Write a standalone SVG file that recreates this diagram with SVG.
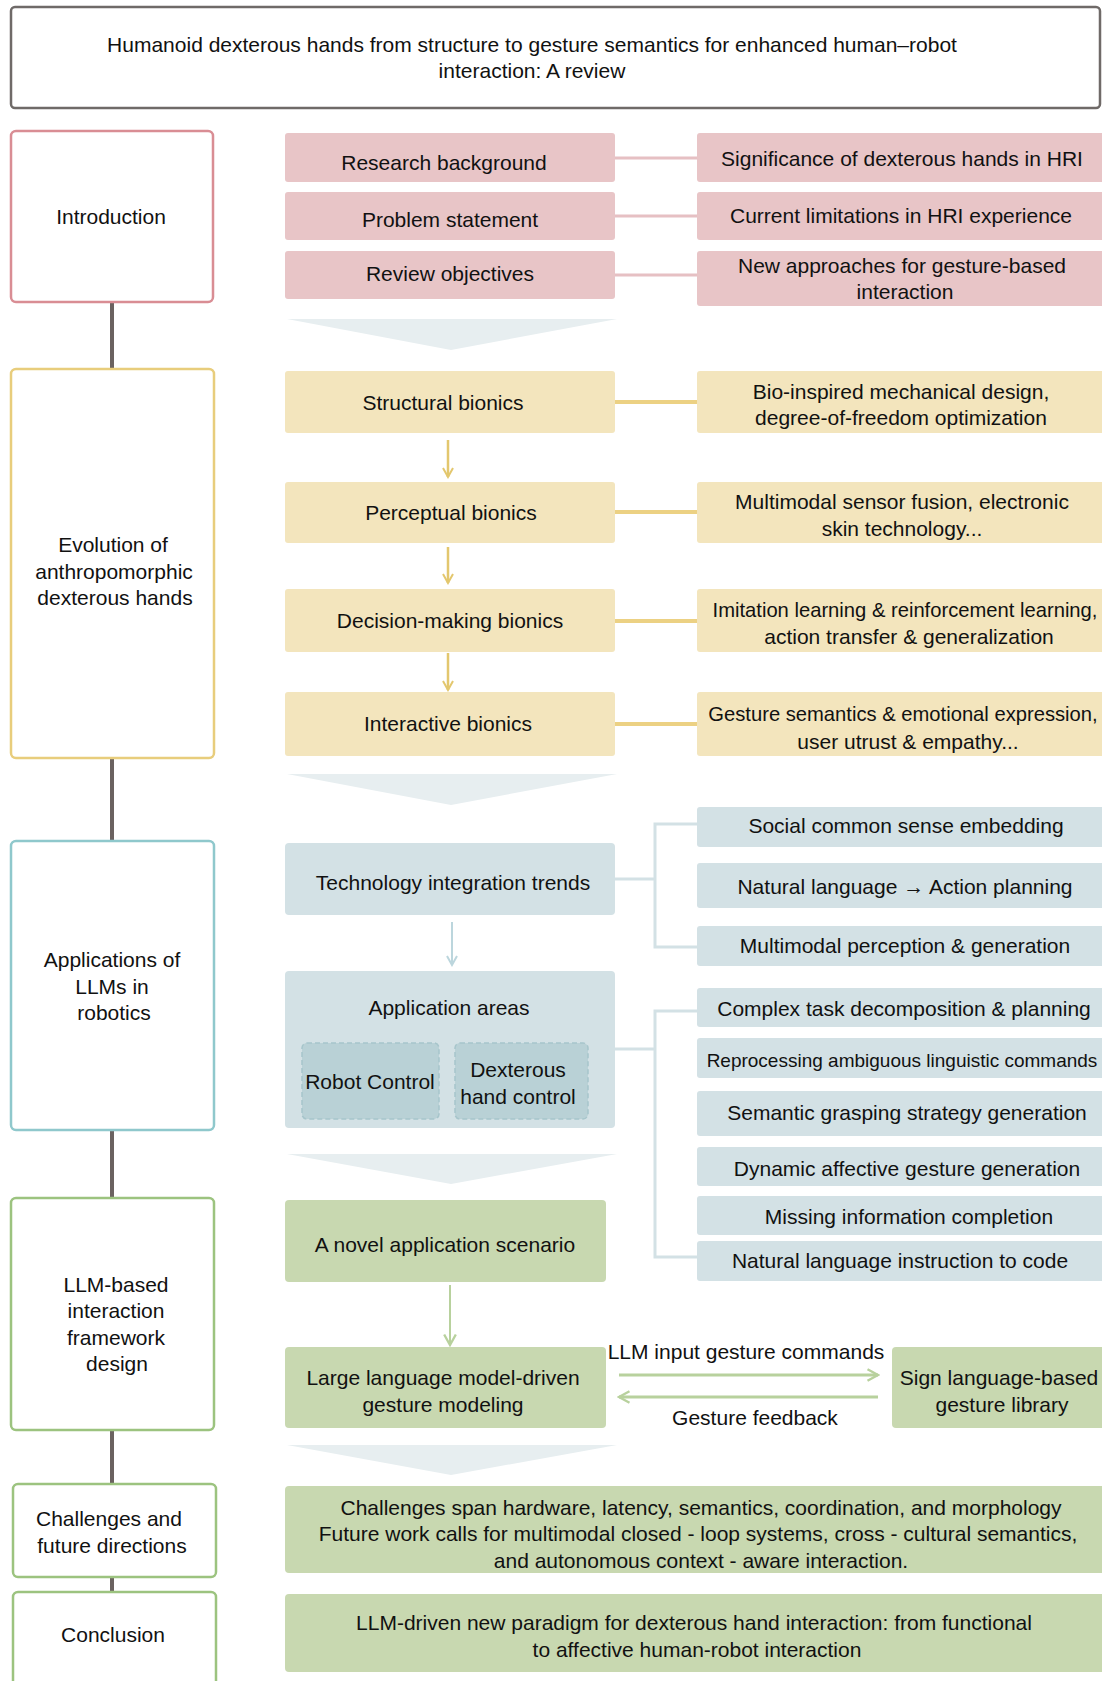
<svg xmlns="http://www.w3.org/2000/svg" width="1102" height="1681" viewBox="0 0 1102 1681">
<style>
text{font-family:"Liberation Sans",Arial,sans-serif;font-size:21px;fill:#111;text-anchor:middle}
.sec{fill:#fff;stroke-width:2.5}
.pk{fill:#e8c5c7}
.yl{fill:#f3e5bd}
.bl{fill:#d3e1e5}
.gr{fill:#c8d8b0}
.dash{fill:#b9d1d6;stroke:#a7c5cb;stroke-width:1.5;stroke-dasharray:5 3}
.chev{fill:#e7eef0}
.vline{stroke:#6b6260;stroke-width:4}
</style>
<defs>
<marker id="ay" viewBox="0 0 12 12" refX="10" refY="6" markerWidth="12" markerHeight="12" markerUnits="userSpaceOnUse" orient="auto"><path d="M1,1 L10,6 L1,11" fill="none" stroke="#e3c76e" stroke-width="2"/></marker>
<marker id="ab" viewBox="0 0 12 12" refX="10" refY="6" markerWidth="12" markerHeight="12" markerUnits="userSpaceOnUse" orient="auto"><path d="M1,1 L10,6 L1,11" fill="none" stroke="#bcd6dd" stroke-width="2"/></marker>
<marker id="ag" viewBox="0 0 12 12" refX="10" refY="6" markerWidth="14" markerHeight="14" markerUnits="userSpaceOnUse" orient="auto"><path d="M1,1 L10,6 L1,11" fill="none" stroke="#b8d19d" stroke-width="2"/></marker>
</defs>

<g id="connectors">
<line class="vline" x1="112" y1="302" x2="112" y2="369"/>
<line class="vline" x1="112" y1="758" x2="112" y2="841"/>
<line class="vline" x1="112" y1="1130" x2="112" y2="1198"/>
<line class="vline" x1="112" y1="1430" x2="112" y2="1484"/>
<line class="vline" x1="112" y1="1577" x2="112" y2="1592"/>
<g stroke="#e6c0c3" stroke-width="3">
<line x1="615" y1="158" x2="697" y2="158"/>
<line x1="615" y1="216" x2="697" y2="216"/>
<line x1="615" y1="275" x2="697" y2="275"/>
</g>
<g stroke="#ecd183" stroke-width="4">
<line x1="615" y1="402" x2="697" y2="402"/>
<line x1="615" y1="512" x2="697" y2="512"/>
<line x1="615" y1="621" x2="697" y2="621"/>
<line x1="615" y1="724" x2="697" y2="724"/>
</g>
<g stroke="#e3c76e" stroke-width="2.5" fill="none">
<line x1="448" y1="440" x2="448" y2="477" marker-end="url(#ay)"/>
<line x1="448" y1="547" x2="448" y2="583" marker-end="url(#ay)"/>
<line x1="448" y1="653" x2="448" y2="690" marker-end="url(#ay)"/>
</g>
<g stroke="#d3e1e5" stroke-width="3" fill="none">
<polyline points="615,879 655,879"/>
<polyline points="697,824 655,824 655,947 697,947"/>
<polyline points="615,1049 655,1049"/>
<polyline points="697,1011 655,1011 655,1257 697,1257"/>
</g>
<line x1="452" y1="922" x2="452" y2="965" stroke="#bcd6dd" stroke-width="2" marker-end="url(#ab)"/>
<line x1="450" y1="1285" x2="450" y2="1345" stroke="#b8d19d" stroke-width="2" marker-end="url(#ag)"/>
<line x1="619" y1="1375" x2="878" y2="1375" stroke="#b8d19d" stroke-width="3" marker-end="url(#ag)"/>
<line x1="878" y1="1397" x2="619" y2="1397" stroke="#b8d19d" stroke-width="3" marker-end="url(#ag)"/>
</g>

<g id="chevrons">
<polygon class="chev" points="287,319 617,319 451,350"/>
<polygon class="chev" points="287,774 617,774 451,805"/>
<polygon class="chev" points="287,1154 617,1154 451,1184"/>
<polygon class="chev" points="287,1445 617,1445 451,1475"/>
</g>

<g id="title"><rect x="11" y="7" width="1089" height="101" rx="4" fill="#fff" stroke="#6f6a68" stroke-width="2.5"/>
<text x="532" y="52">Humanoid dexterous hands from structure to gesture semantics for enhanced human–robot</text>
<text x="532" y="78">interaction: A review</text></g>

<g id="introduction"><rect class="sec" x="11" y="131" width="202" height="171" rx="5" stroke="#d98d94"/><text x="111" y="224">Introduction</text></g>
<g id="research-background"><rect class="pk" x="285" y="133" width="330" height="49" rx="3"/><text x="444" y="170">Research background</text></g>
<g id="problem-statement"><rect class="pk" x="285" y="192" width="330" height="48" rx="3"/><text x="450" y="227">Problem statement</text></g>
<g id="review-objectives"><rect class="pk" x="285" y="251" width="330" height="48" rx="3"/><text x="450" y="281">Review objectives</text></g>
<g id="significance"><rect class="pk" x="697" y="133" width="410" height="49" rx="3"/><text x="902" y="166">Significance of dexterous hands in HRI</text></g>
<g id="limitations"><rect class="pk" x="697" y="192" width="410" height="48" rx="3"/><text x="901" y="223">Current limitations in HRI experience</text></g>
<g id="new-approaches"><rect class="pk" x="697" y="251" width="410" height="55" rx="3"/><text x="902" y="273">New approaches for gesture-based</text><text x="905" y="299">interaction</text></g>

<g id="evolution"><rect class="sec" x="11" y="369" width="203" height="389" rx="5" stroke="#e8cd7c"/><text x="113" y="552">Evolution of</text><text x="114" y="579">anthropomorphic</text><text x="115" y="605">dexterous hands</text></g>
<g id="structural"><rect class="yl" x="285" y="371" width="330" height="62" rx="3"/><text x="443" y="410">Structural bionics</text></g>
<g id="perceptual"><rect class="yl" x="285" y="482" width="330" height="61" rx="3"/><text x="451" y="520">Perceptual bionics</text></g>
<g id="decision"><rect class="yl" x="285" y="589" width="330" height="63" rx="3"/><text x="450" y="628">Decision-making bionics</text></g>
<g id="interactive"><rect class="yl" x="285" y="692" width="330" height="64" rx="3"/><text x="448" y="731">Interactive bionics</text></g>
<g id="bio-inspired"><rect class="yl" x="697" y="371" width="410" height="62" rx="3"/><text x="901" y="399">Bio-inspired mechanical design,</text><text x="901" y="425">degree-of-freedom optimization</text></g>
<g id="multimodal-sensor"><rect class="yl" x="697" y="482" width="410" height="61" rx="3"/><text x="902" y="509">Multimodal sensor fusion, electronic</text><text x="902" y="536">skin technology...</text></g>
<g id="imitation"><rect class="yl" x="697" y="589" width="410" height="63" rx="3"/><text x="905" y="617" style="font-size:20.2px">Imitation learning &amp; reinforcement learning,</text><text x="909" y="644">action transfer &amp; generalization</text></g>
<g id="gesture-semantics"><rect class="yl" x="697" y="692" width="410" height="64" rx="3"/><text x="903" y="721" style="font-size:20.2px">Gesture semantics &amp; emotional expression,</text><text x="908" y="749">user utrust &amp; empathy...</text></g>

<g id="applications"><rect class="sec" x="11" y="841" width="203" height="289" rx="5" stroke="#8fc8cc"/><text x="112" y="967">Applications of</text><text x="112" y="994">LLMs in</text><text x="114" y="1020">robotics</text></g>
<g id="tech-trends"><rect class="bl" x="285" y="843" width="330" height="72" rx="4"/><text x="453" y="890">Technology integration trends</text></g>
<g id="app-areas"><rect class="bl" x="285" y="971" width="330" height="157" rx="4"/><text x="449" y="1015">Application areas</text>
<rect class="dash" x="302" y="1043" width="137" height="76" rx="5"/><text x="370" y="1089">Robot Control</text>
<rect class="dash" x="455" y="1043" width="133" height="76" rx="5"/><text x="518" y="1077">Dexterous</text><text x="518" y="1104">hand control</text></g>
<g id="social"><rect class="bl" x="697" y="807" width="410" height="40" rx="3"/><text x="906" y="833">Social common sense embedding</text></g>
<g id="nl-action"><rect class="bl" x="697" y="863" width="410" height="45" rx="3"/><text x="905" y="894">Natural language → Action planning</text></g>
<g id="multimodal-perception"><rect class="bl" x="697" y="926" width="410" height="40" rx="3"/><text x="905" y="953">Multimodal perception &amp; generation</text></g>
<g id="complex-task"><rect class="bl" x="697" y="988" width="410" height="39" rx="3"/><text x="904" y="1016">Complex task decomposition &amp; planning</text></g>
<g id="reprocessing"><rect class="bl" x="697" y="1038" width="410" height="40" rx="3"/><text x="902" y="1067" style="font-size:19px">Reprocessing ambiguous linguistic commands</text></g>
<g id="semantic-grasp"><rect class="bl" x="697" y="1091" width="410" height="45" rx="3"/><text x="907" y="1120">Semantic grasping strategy generation</text></g>
<g id="dynamic"><rect class="bl" x="697" y="1147" width="410" height="39" rx="3"/><text x="907" y="1176">Dynamic affective gesture generation</text></g>
<g id="missing"><rect class="bl" x="697" y="1196" width="410" height="39" rx="3"/><text x="909" y="1224">Missing information completion</text></g>
<g id="nl-code"><rect class="bl" x="697" y="1241" width="410" height="40" rx="3"/><text x="900" y="1268">Natural language instruction to code</text></g>

<g id="llm-framework"><rect class="sec" x="11" y="1198" width="203" height="232" rx="5" stroke="#9cc37f"/><text x="116" y="1292">LLM-based</text><text x="116" y="1318">interaction</text><text x="116" y="1345">framework</text><text x="117" y="1371">design</text></g>
<g id="novel-scenario"><rect class="gr" x="285" y="1200" width="321" height="82" rx="4"/><text x="445" y="1252">A novel application scenario</text></g>
<g id="llm-gesture"><rect class="gr" x="285" y="1347" width="321" height="81" rx="4"/><text x="443" y="1385">Large language model-driven</text><text x="443" y="1412">gesture modeling</text></g>
<g id="sign-library"><rect class="gr" x="892" y="1347" width="215" height="81" rx="4"/><text x="999" y="1385">Sign language-based</text><text x="1002" y="1412">gesture library</text></g>
<g id="arrow-labels"><text x="746" y="1359">LLM input gesture commands</text><text x="755" y="1425">Gesture feedback</text></g>

<g id="challenges"><rect class="sec" x="13" y="1484" width="203" height="93" rx="5" stroke="#9cc37f"/><text x="109" y="1526">Challenges and</text><text x="112" y="1553">future directions</text></g>
<g id="challenges-text"><rect class="gr" x="285" y="1486" width="822" height="87" rx="4"/><text x="701" y="1515">Challenges span hardware, latency, semantics, coordination, and morphology</text><text x="698" y="1541">Future work calls for multimodal closed - loop systems, cross - cultural semantics,</text><text x="701" y="1568">and autonomous context - aware interaction.</text></g>

<g id="conclusion"><rect class="sec" x="13" y="1592" width="203" height="110" rx="5" stroke="#9cc37f"/><text x="113" y="1642">Conclusion</text></g>
<g id="conclusion-text"><rect class="gr" x="285" y="1594" width="822" height="78" rx="4"/><text x="694" y="1630">LLM-driven new paradigm for dexterous hand interaction: from functional</text><text x="697" y="1657">to affective human-robot interaction</text></g>
</svg>
